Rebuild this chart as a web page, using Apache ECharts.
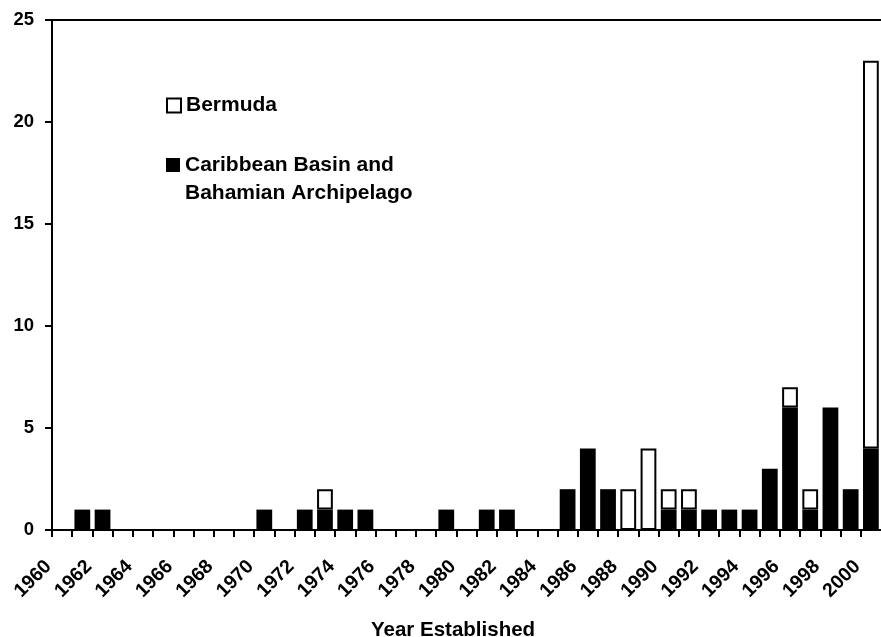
<!DOCTYPE html>
<html>
<head>
<meta charset="utf-8">
<style>
  html, body { margin: 0; padding: 0; background: #fff; }
  #chart { width: 881px; height: 637px; }
</style>
<script src="https://cdn.jsdelivr.net/npm/echarts@6/dist/echarts.min.js"></script>
</head>
<body>
<div id="chart"></div>
<script>
// Year established, 1960 - 2000 (one bar per year)
const years = [];
for (let y = 1960; y <= 2000; y++) years.push(String(y));

// Caribbean Basin and Bahamian Archipelago (black, bottom of stack)
const caribbean = [
  0, 1, 1, 0, 0, 0, 0, 0, 0, 0,   // 1960-1969
  1, 0, 1, 1, 1, 1, 0, 0, 0, 1,   // 1970-1979
  0, 1, 1, 0, 0, 2, 4, 2, 0, 0,   // 1980-1989
  1, 1, 1, 1, 1, 3, 6, 1, 6, 2,   // 1990-1999
  4                               // 2000
];

// Bermuda (white, stacked on top)
const bermuda = [
  0, 0, 0, 0, 0, 0, 0, 0, 0, 0,
  0, 0, 0, 1, 0, 0, 0, 0, 0, 0,
  0, 0, 0, 0, 0, 0, 0, 0, 2, 4,
  1, 1, 0, 0, 0, 0, 1, 1, 0, 0,
  19
];

const yTicks = { min: 0, max: 25, step: 5 };
const FONT = "'Liberation Sans', Arial, Helvetica, sans-serif";

const chart = echarts.init(document.getElementById("chart"));

chart.setOption({
  animation: false,
  backgroundColor: "#fff",
  textStyle: { fontFamily: FONT, color: "#000" },
  title: {
    text: "Year Established",
    left: 371,
    top: 620,
    padding: 0,
    textStyle: { fontFamily: FONT, fontSize: 20.5, fontWeight: "bold", color: "#000" }
  },
  legend: [
    {
      data: ["Bermuda"],
      orient: "vertical",
      left: 166,
      top: 95,
      padding: 0,
      itemWidth: 14,
      itemHeight: 14,
      icon: "rect",
      textStyle: { fontFamily: FONT, fontSize: 21, fontWeight: "bold", color: "#000" }
    },
    {
      data: ["Caribbean Basin and\nBahamian Archipelago"],
      orient: "vertical",
      left: 166,
      top: 123,
      padding: 0,
      itemWidth: 14,
      itemHeight: 14,
      icon: "rect",
      // blank first line keeps the icon level with the first text line
      formatter: function (name) { return " \n" + name; },
      textStyle: {
        fontFamily: FONT, fontSize: 21, fontWeight: "bold", color: "#000",
        lineHeight: 28
      }
    }
  ],
  grid: { left: 52, top: 20, bottom: 107, right: -7.4, containLabel: false },
  xAxis: [
    {
      // bars sit on this one; drawn only as the top border line
      type: "category",
      data: years,
      position: "top",
      boundaryGap: true,
      axisLine: { show: true, onZero: false, lineStyle: { color: "#000", width: 2 } },
      axisTick: { show: false },
      axisLabel: { show: false },
      splitLine: { show: false }
    },
    {
      // year ticks and labels at the band edges
      type: "value",
      position: "bottom",
      min: 1960,
      max: 2001,
      interval: 1,
      axisLine: { show: true, onZero: false, lineStyle: { color: "#000", width: 2 } },
      axisTick: { show: true, inside: false, length: 7, lineStyle: { color: "#000", width: 2 } },
      axisLabel: {
        show: true,
        rotate: 45,
        margin: 30,
        padding: [0, 5, 0, 0],
        fontFamily: FONT,
        fontSize: 19.5,
        fontWeight: "bold",
        color: "#000",
        showMaxLabel: false,
        formatter: function (v) { return v % 2 === 0 ? String(v) : ""; }
      },
      splitLine: { show: false }
    }
  ],
  yAxis: {
    type: "value",
    min: yTicks.min,
    max: yTicks.max,
    interval: yTicks.step,
    axisLine: { show: true, lineStyle: { color: "#000", width: 2 } },
    axisTick: { show: true, inside: false, length: 7, lineStyle: { color: "#000", width: 2 } },
    axisLabel: {
      margin: 18,
      fontFamily: FONT,
      fontSize: 18.5,
      fontWeight: "bold",
      color: "#000"
    },
    splitLine: { show: false }
  },
  series: [
    {
      name: "Caribbean Basin and\nBahamian Archipelago",
      type: "bar",
      stack: "total",
      xAxisIndex: 0,
      barCategoryGap: "22%",
      itemStyle: { color: "#000" },
      data: caribbean.map(function (v) { return v || null; })
    },
    {
      name: "Bermuda",
      type: "bar",
      stack: "total",
      xAxisIndex: 0,
      barCategoryGap: "22%",
      itemStyle: { color: "#fff", borderColor: "#000", borderWidth: 2 },
      data: bermuda.map(function (v) { return v || null; })
    }
  ]
});
</script>
</body>
</html>
